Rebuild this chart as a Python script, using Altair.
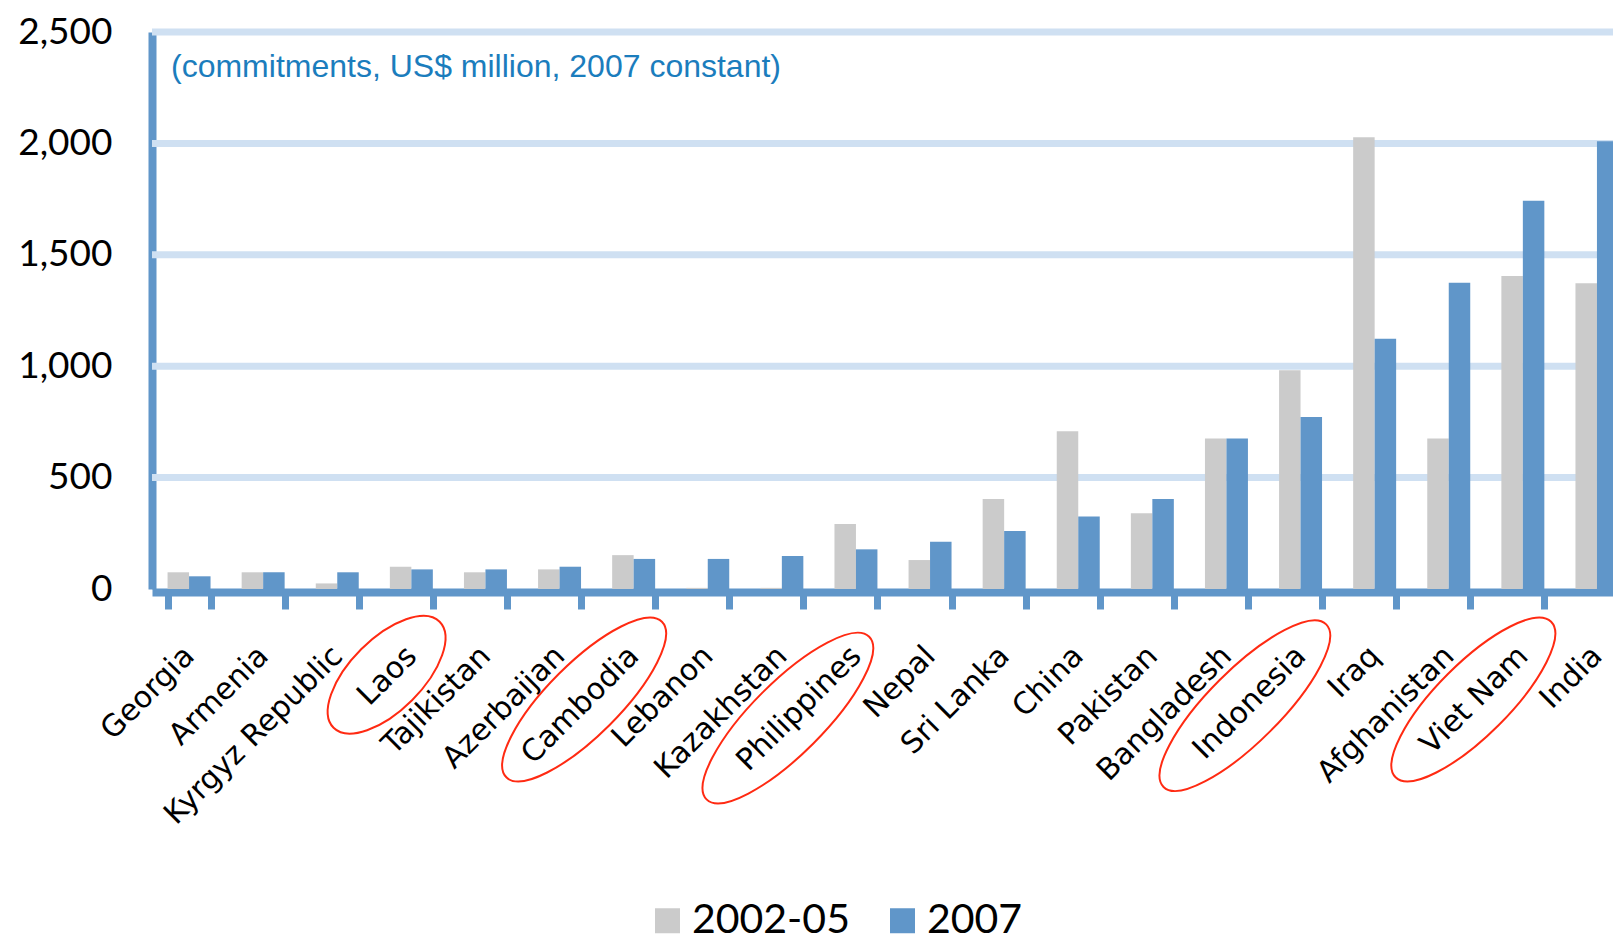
import altair as alt
import pandas as pd

# ---------------- data ----------------
countries = ["Georgia", "Armenia", "Kyrgyz Republic", "Laos", "Tajikistan",
             "Azerbaijan", "Cambodia", "Lebanon", "Kazakhstan", "Philippines",
             "Nepal", "Sri Lanka", "China", "Pakistan", "Bangladesh",
             "Indonesia", "Iraq", "Afghanistan", "Viet Nam", "India"]
v_2002_05 = [75, 75, 25, 100, 75, 88, 152, 5, 5, 292,
             130, 404, 708, 340, 676, 982, 2028, 676, 1405, 1372]
v_2007 = [57, 75, 75, 88, 88, 100, 135, 135, 148, 178,
          212, 260, 325, 404, 676, 772, 1123, 1375, 1743, 2010]
periods = ["2002-05", "2007"]
highlighted = ["Laos", "Cambodia", "Philippines", "Indonesia", "Viet Nam"]
y_ticks = [0, 500, 1000, 1500, 2000, 2500]
note = "(commitments, US$ million, 2007 constant)"

rows = []
for c, a, b in zip(countries, v_2002_05, v_2007):
    rows.append({"country": c, "period": periods[0], "value": a})
    rows.append({"country": c, "period": periods[1], "value": b})
df = pd.DataFrame(rows)

# ---------------- layout ----------------
W, H = 1461, 557
X_RANGE = 1482
BLUE = "#6096c9"
GREY = "#cbcbcb"
GRID = "#cfe0f2"
RED = "#ff2a12"

x_scale = alt.Scale(domain=countries, range=[0, X_RANGE],
                    paddingInner=0.42, paddingOuter=0.21)
y_scale = alt.Scale(domain=[0, 2500], nice=False)

x_axis = alt.Axis(title=None, labelAngle=-45, labelAlign="right",
                  labelBaseline="middle", labelFont="DejaVu Sans",
                  labelFontSize=30, labelColor="black", labelLimit=500,
                  labelPadding=42, labelOverlap=False,
                  tickBand="extent", tickSize=17, tickWidth=7,
                  tickColor=BLUE, domainColor=BLUE, domainWidth=8,
                  offset=3, grid=False)
y_axis = alt.Axis(title=None, values=y_ticks, format=",d",
                  labelFont="Lato", labelFontSize=37, labelColor="black",
                  labelPadding=40, ticks=False, domainColor=BLUE,
                  domainWidth=8, grid=False)

grid = alt.Chart(pd.DataFrame({"tick": y_ticks[1:]})).mark_rule(
    color=GRID, strokeWidth=7
).encode(
    y=alt.Y("tick:Q", scale=y_scale, axis=y_axis),
    x=alt.value(0),
    x2=alt.value(X_RANGE),
)

bars = alt.Chart(df).mark_bar().encode(
    x=alt.X("country:N", scale=x_scale, sort=None, axis=x_axis),
    xOffset=alt.XOffset("period:N", sort=None,
                        scale=alt.Scale(domain=periods, paddingInner=0, paddingOuter=0)),
    y=alt.Y("value:Q", scale=y_scale, axis=y_axis),
    color=alt.Color("period:N", sort=None,
                    scale=alt.Scale(domain=periods, range=[GREY, BLUE]),
                    legend=alt.Legend(title=None, orient="none", direction="horizontal",
                                      legendX=495, legendY=868, symbolType="square",
                                      symbolSize=625, symbolStrokeWidth=0,
                                      labelFont="Lato", labelFontSize=41,
                                      labelColor="black", labelOffset=4,
                                      columnPadding=32, padding=0)),
)

text = alt.Chart(pd.DataFrame({"t": [note]})).mark_text(
    align="left", baseline="alphabetic", font="Liberation Sans",
    fontSize=32, color="#1b7dbd"
).encode(x=alt.value(19), y=alt.value(45), text="t:N")

# red ellipses around highlighted labels: the symbol sits on the label anchor
# and the ellipse path is shifted along the (rotated) label direction
ANCHOR_Y = 618.0          # label anchor below the plot top
CHAR_W = 17.5             # approx rendered width per character
ellipses = []
for h in highlighted:
    L = len(h) * CHAR_W
    a = min(115.0, L / 2 + 40)
    b = 36.0
    r = b / a
    cx = -(L / 2) / a
    path = (f"M {cx - 1:.4f} 0 A 1 {r:.4f} 0 1 1 {cx + 1:.4f} 0 "
            f"A 1 {r:.4f} 0 1 1 {cx - 1:.4f} 0 Z")
    ellipses.append(
        alt.Chart(pd.DataFrame({"country": [h]})).mark_point(
            shape=path, size=(2 * a) ** 2, angle=315, filled=False,
            color=RED, strokeWidth=2, opacity=1
        ).encode(
            x=alt.X("country:N", scale=x_scale, sort=None),
            y=alt.value(ANCHOR_Y),
        )
    )

chart = alt.layer(grid, bars, text, *ellipses).properties(
    width=W, height=H,
    autosize=alt.AutoSizeParams(type="none"),
    padding={"left": 144, "top": 24, "right": 0, "bottom": 355},
).configure_view(strokeWidth=0).configure(background="white")

chart.save("out.html", embed_options={"renderer": "svg", "actions": False})
